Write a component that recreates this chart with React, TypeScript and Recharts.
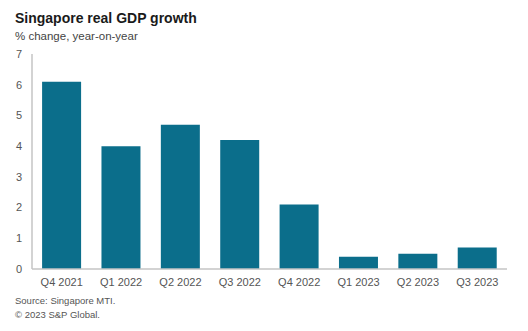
import { BarChart, Bar, XAxis, YAxis } from "recharts";

const quarters = ["Q4 2021", "Q1 2022", "Q2 2022", "Q3 2022", "Q4 2022", "Q1 2023", "Q2 2023", "Q3 2023"];
const growth = [6.1, 4.0, 4.7, 4.2, 2.1, 0.4, 0.5, 0.7];
const yTicks = [0, 1, 2, 3, 4, 5, 6, 7];

const data = quarters.map((q, i) => ({ quarter: q, value: growth[i] }));

const font = "'Liberation Sans', Arial, sans-serif";

export default function App() {
  return (
    <div style={{ position: "absolute", left: 0, top: 0, width: 528, height: 331, background: "#fff", fontFamily: font }}>
      {/* Titles */}
      <div style={{ position: "absolute", left: 15, top: 10, fontSize: 14, fontWeight: "bold", color: "#1a1a1a" }}>
        Singapore real GDP growth
      </div>
      <div style={{ position: "absolute", left: 15, top: 30, fontSize: 11.5, color: "#444" }}>
        % change, year-on-year
      </div>

      <BarChart
        width={528}
        height={331}
        data={data}
        margin={{ top: 54, right: 21, bottom: 32, left: 0 }}
        barCategoryGap="17%"
      >
        <XAxis
          dataKey="quarter"
          tickLine={false}
          height={30}
          tickMargin={3}
          axisLine={{ stroke: "#c4c4c4", strokeWidth: 1.5 }}
          tick={{ fill: "#555", fontSize: 11, fontFamily: font }}
          interval={0}
        />
        <YAxis
          domain={[0, 7]}
          ticks={yTicks}
          width={32}
          tickLine={false}
          tickMargin={4}
          axisLine={{ stroke: "#c4c4c4", strokeWidth: 1.5 }}
          tick={{ fill: "#555", fontSize: 11, fontFamily: font }}
        />
        <Bar dataKey="value" fill="#0b6e8b" isAnimationActive={false} />
      </BarChart>

      {/* Footer */}
      <div style={{ position: "absolute", left: 15, top: 295, fontSize: 9.5, color: "#555" }}>
        Source: Singapore MTI.
      </div>
      <div style={{ position: "absolute", left: 15, top: 309, fontSize: 9.5, color: "#555" }}>
        © 2023 S&amp;P Global.
      </div>
    </div>
  );
}
